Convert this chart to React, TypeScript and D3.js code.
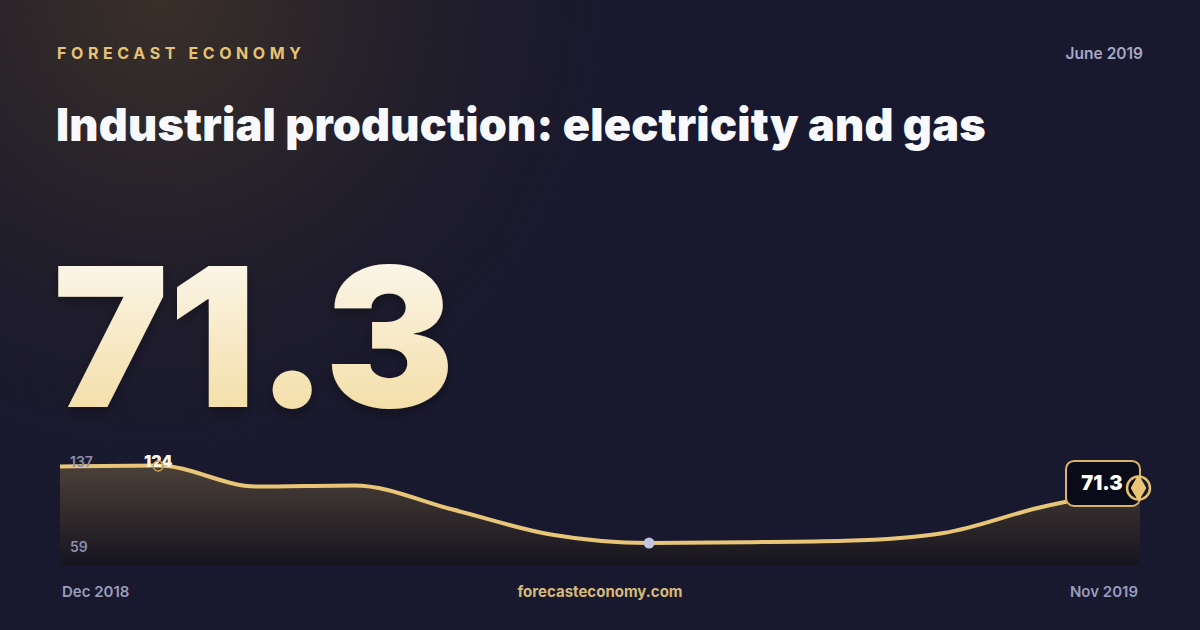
import { useEffect, useRef } from 'react';
import * as d3 from 'd3';

// ─── Data ───────────────────────────────────────────────────

const months = ['Dec 2018', 'Jan 2019', 'Feb 2019', 'Mar 2019', 'Apr 2019', 'May 2019',
  'Jun 2019', 'Jul 2019', 'Aug 2019', 'Sep 2019', 'Oct 2019', 'Nov 2019'];
// values read against the sparkline's own axis (59 … 137)
const values = [134.3, 135.1, 119.0, 119.8, 101.4, 82.3, 75.8, 76.4, 77.5, 83.5, 103.4, 117.9];
const axisMin = 59;
const axisMax = 137;
const peakIndex = 1;
const peakLabel = '124';
const minIndex = 6;
const lastLabel = '71.3';
const headline = '71.3';
const kicker = 'FORECAST ECONOMY';
const period = 'June 2019';
const title = 'Industrial production: electricity and gas';
const site = 'forecasteconomy.com';

const W = 1200;
const H = 630;
const FONT = 'Inter, "Noto Sans", sans-serif';

// ─── Component ──────────────────────────────────────────────

export default function App() {
  const svgRef = useRef<SVGSVGElement>(null);

  useEffect(() => {
    document.body.style.margin = '0';
    if (!svgRef.current) return;
    const svg = d3.select(svgRef.current);
    svg.selectAll('*').remove();

    const defs = svg.append('defs');

    // background glow
    const glow = defs.append('radialGradient')
      .attr('id', 'bg-glow')
      .attr('cx', 160).attr('cy', 0).attr('r', 620)
      .attr('gradientUnits', 'userSpaceOnUse');
    glow.append('stop').attr('offset', '0%').attr('stop-color', '#3a3029');
    glow.append('stop').attr('offset', '45%').attr('stop-color', '#221f2b').attr('stop-opacity', 0.9);
    glow.append('stop').attr('offset', '100%').attr('stop-color', '#17172d').attr('stop-opacity', 0);

    const bigFill = defs.append('linearGradient')
      .attr('id', 'big-fill')
      .attr('x1', 0).attr('y1', 0).attr('x2', 0).attr('y2', 1);
    bigFill.append('stop').attr('offset', '0%').attr('stop-color', '#fdfcfa');
    bigFill.append('stop').attr('offset', '100%').attr('stop-color', '#f2d896');

    const areaFill = defs.append('linearGradient')
      .attr('id', 'area-fill')
      .attr('x1', 0).attr('y1', 0).attr('x2', 0).attr('y2', 1);
    areaFill.append('stop').attr('offset', '0%').attr('stop-color', '#4c4139');
    areaFill.append('stop').attr('offset', '100%').attr('stop-color', '#16141f');

    const shadow = defs.append('filter').attr('id', 'big-shadow')
      .attr('x', '-10%').attr('y', '-10%').attr('width', '120%').attr('height', '130%');
    shadow.append('feDropShadow')
      .attr('dx', 0).attr('dy', 4).attr('stdDeviation', 6)
      .attr('flood-color', '#000').attr('flood-opacity', 0.35);

    svg.append('rect').attr('width', W).attr('height', H).attr('fill', '#18182f');
    svg.append('rect').attr('width', W).attr('height', H).attr('fill', 'url(#bg-glow)');

    // Header
    svg.append('text')
      .attr('x', 57).attr('y', 59)
      .style('font-family', FONT).style('font-size', '16px').style('font-weight', 700)
      .style('letter-spacing', '4.6px')
      .attr('fill', '#e6c274')
      .text(kicker);

    svg.append('text')
      .attr('x', 1143).attr('y', 59).attr('text-anchor', 'end')
      .style('font-family', FONT).style('font-size', '15.5px').style('font-weight', 600)
      .attr('fill', '#a6a8c4')
      .text(period);

    svg.append('text')
      .attr('x', 56).attr('y', 141)
      .style('font-family', FONT).style('font-size', '45px').style('font-weight', 900)
      .style('letter-spacing', '0.2px')
      .attr('fill', '#f8f9fc')
      .text(title);

    svg.append('text')
      .attr('x', 53).attr('y', 407)
      .style('font-family', FONT).style('font-size', '194px').style('font-weight', 900)
      .attr('fill', 'url(#big-fill)')
      .attr('filter', 'url(#big-shadow)')
      .text(headline);

    // Sparkline
    const left = 60;
    const right = 1140;
    const top = 463;
    const bottom = 565;

    const x = d3.scaleLinear().domain([0, values.length - 1]).range([left, right]);
    const y = d3.scaleLinear().domain([axisMin, axisMax]).range([bottom, top]);

    const area = d3.area<number>()
      .x((_, i) => x(i))
      .y0(bottom)
      .y1((d) => y(d))
      .curve(d3.curveMonotoneX);

    const line = d3.line<number>()
      .x((_, i) => x(i))
      .y((d) => y(d))
      .curve(d3.curveMonotoneX);

    svg.append('path').datum(values).attr('fill', 'url(#area-fill)').attr('d', area);
    svg.append('path').datum(values)
      .attr('fill', 'none')
      .attr('stroke', '#e9c677')
      .attr('stroke-width', 4)
      .attr('stroke-linejoin', 'round')
      .attr('d', line);

    // axis extremes
    svg.append('text')
      .attr('x', 70).attr('y', y(axisMax) + 4)
      .style('font-family', FONT).style('font-size', '14px').style('font-weight', 600)
      .attr('fill', '#8c8eae')
      .text(String(axisMax));
    svg.append('text')
      .attr('x', 70).attr('y', y(axisMin) - 13)
      .style('font-family', FONT).style('font-size', '14px').style('font-weight', 600)
      .attr('fill', '#8c8eae')
      .text(String(axisMin));

    // peak marker
    svg.append('text')
      .attr('x', x(peakIndex)).attr('y', y(values[peakIndex]) + 2)
      .attr('text-anchor', 'middle')
      .style('font-family', FONT).style('font-size', '16px').style('font-weight', 900)
      .attr('fill', '#fbf7ec')
      .text(peakLabel);
    svg.append('circle')
      .attr('cx', x(peakIndex)).attr('cy', y(values[peakIndex]) + 0.5)
      .attr('r', 5)
      .attr('fill', 'none')
      .attr('stroke', '#c9a04c')
      .attr('stroke-width', 1.5);

    // min marker
    svg.append('circle')
      .attr('cx', x(minIndex)).attr('cy', y(values[minIndex]))
      .attr('r', 5.5)
      .attr('fill', '#c2c5dd');

    // last value badge
    const lx = x(values.length - 1);
    const ly = y(values[values.length - 1]);
    svg.append('rect')
      .attr('x', lx - 74).attr('y', ly - 27)
      .attr('width', 74).attr('height', 45)
      .attr('rx', 8)
      .attr('fill', '#0a0b19')
      .attr('stroke', '#d8b566')
      .attr('stroke-width', 2);
    svg.append('text')
      .attr('x', lx - 38).attr('y', ly + 2)
      .attr('text-anchor', 'middle')
      .style('font-family', FONT).style('font-size', '20px').style('font-weight', 900)
      .attr('fill', '#ffffff')
      .text(lastLabel);
    svg.append('circle')
      .attr('cx', lx - 1.5).attr('cy', ly)
      .attr('r', 11.5)
      .attr('fill', 'none')
      .attr('stroke', '#e3bf6e')
      .attr('stroke-width', 2.5);
    svg.append('path')
      .attr('transform', `translate(${lx - 1.5},${ly})`)
      .attr('d', d3.symbol(d3.symbolDiamond, 130)())
      .attr('fill', '#e9c677')
      .attr('stroke', '#e9c677')
      .attr('stroke-width', 3)
      .attr('stroke-linejoin', 'round');

    // footer
    svg.append('text')
      .attr('x', 62).attr('y', 597)
      .style('font-family', FONT).style('font-size', '15px').style('font-weight', 600)
      .attr('fill', '#9a9cb9')
      .text(months[0]);
    svg.append('text')
      .attr('x', 1138).attr('y', 597).attr('text-anchor', 'end')
      .style('font-family', FONT).style('font-size', '15px').style('font-weight', 600)
      .attr('fill', '#9a9cb9')
      .text(months[months.length - 1]);
    svg.append('text')
      .attr('x', 600).attr('y', 597).attr('text-anchor', 'middle')
      .style('font-family', FONT).style('font-size', '15px').style('font-weight', 700)
      .attr('fill', '#d6ba78')
      .text(site);
  }, []);

  return (
    <svg ref={svgRef} width={W} height={H} viewBox={`0 0 ${W} ${H}`} style={{ display: 'block' }} />
  );
}
